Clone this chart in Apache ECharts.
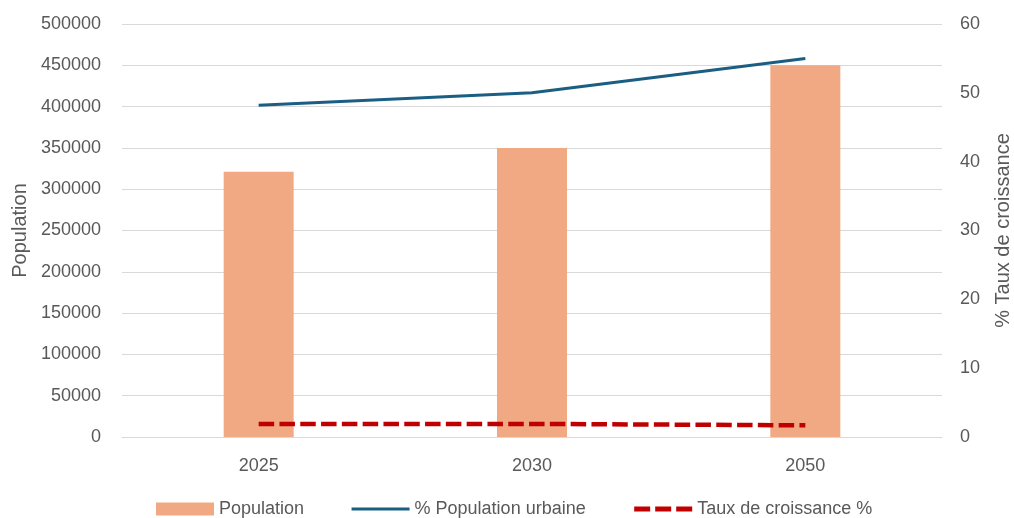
<!DOCTYPE html>
<html>
<head>
<meta charset="utf-8">
<script src="https://cdn.jsdelivr.net/npm/echarts@6/dist/echarts.min.js"></script>
<style>
  html, body { margin: 0; padding: 0; background: #ffffff; }
  #chart { width: 1014px; height: 518px; }
</style>
</head>
<body>
<div id="chart"></div>
<script>
// Années projetées
const years = ['2025', '2030', '2050'];
// Population totale
const population = [321000, 350000, 450000];
// Part de la population urbaine (%)
const urbanShare = [48.2, 50, 55];
// Taux de croissance annuel (%)
const growthRate = [1.9, 1.9, 1.7];

const textColor = '#595959';
const fontFamily = '"Liberation Sans", Arial, sans-serif';
const barColor = '#F1A983';
const urbanColor = '#1B5E84';
const growthColor = '#C00000';

const chart = echarts.init(document.getElementById('chart'), null, { renderer: 'canvas' });

chart.setOption({
  animation: false,
  backgroundColor: '#ffffff',
  textStyle: { fontFamily: fontFamily, color: textColor },
  grid: { left: 122, right: 72, top: 24, bottom: 81, containLabel: false, outerBoundsMode: 'none' },
  legend: {
    left: 151,
    top: 495,
    itemWidth: 58,
    itemHeight: 13,
    itemGap: 46,
    textStyle: { fontSize: 18, color: textColor, fontFamily: fontFamily },
    data: [
      { name: 'Population', icon: 'rect' },
      { name: '% Population urbaine', itemStyle: { opacity: 0 }, lineStyle: { width: 3, color: urbanColor } },
      { name: 'Taux de croissance %', itemStyle: { opacity: 0 }, lineStyle: { width: 5, color: growthColor, type: [16, 5] } }
    ]
  },
  xAxis: {
    type: 'category',
    data: years,
    axisLine: { show: true, lineStyle: { color: '#d9d9d9', width: 1 } },
    axisTick: { show: false },
    axisLabel: { fontSize: 18, color: textColor, margin: 20 }
  },
  yAxis: [
    {
      type: 'value',
      name: 'Population',
      nameLocation: 'middle',
      nameGap: 91,
      nameRotate: 90,
      nameTextStyle: { fontSize: 20, color: textColor },
      min: 0,
      max: 500000,
      interval: 50000,
      axisLine: { show: false },
      axisTick: { show: false },
      axisLabel: { fontSize: 18, color: textColor, margin: 21, formatter: (v) => String(v) },
      splitLine: { lineStyle: { color: '#d9d9d9', width: 1 } }
    },
    {
      type: 'value',
      name: '% Taux de croissance',
      nameLocation: 'middle',
      nameGap: 51,
      nameRotate: 90,
      nameTextStyle: { fontSize: 20, color: textColor },
      position: 'right',
      min: 0,
      max: 60,
      interval: 10,
      axisLine: { show: false },
      axisTick: { show: false },
      axisLabel: { fontSize: 18, color: textColor, margin: 18, formatter: (v) => String(v) },
      splitLine: { show: false }
    }
  ],
  series: [
    {
      name: 'Population',
      type: 'bar',
      data: population,
      barWidth: 70,
      itemStyle: { color: barColor }
    },
    {
      name: '% Population urbaine',
      type: 'line',
      yAxisIndex: 1,
      data: urbanShare,
      symbol: 'none',
      lineStyle: { color: urbanColor, width: 3 },
      itemStyle: { color: urbanColor }
    },
    {
      name: 'Taux de croissance %',
      type: 'line',
      yAxisIndex: 1,
      data: growthRate,
      symbol: 'none',
      lineStyle: { color: growthColor, width: 4.5, type: [15.5, 5.3] },
      itemStyle: { color: growthColor }
    }
  ]
});
</script>
</body>
</html>
